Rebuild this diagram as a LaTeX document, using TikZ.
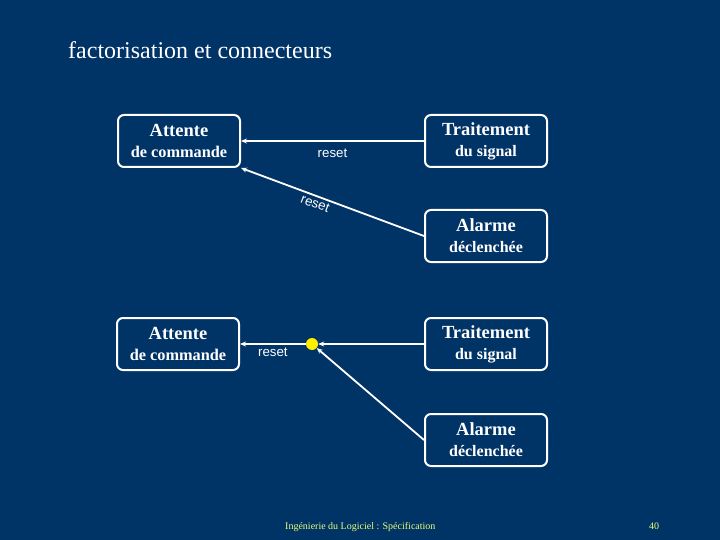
\documentclass[tikz,border=0pt]{standalone}
\usepackage{fontspec}
\setmainfont{Liberation Serif}
\newfontfamily\labelfont{Liberation Sans}
\usetikzlibrary{arrows.meta,positioning}
\definecolor{slidebg}{RGB}{0,51,102}
\definecolor{footyellow}{RGB}{230,255,120}
\definecolor{dotyellow}{RGB}{255,238,0}

\begin{document}
\begin{tikzpicture}[x=1pt,y=-1pt,
  etat/.style={draw=white,line width=2pt,rounded corners=6pt,minimum width=122pt,
    minimum height=52pt,align=center,text=white,inner sep=0pt,
    font=\bfseries\fontsize{18.5}{21}\selectfont},
  trans/.style={white,line width=1.8pt,-{Stealth[length=6pt,width=5pt]}},
  lbl/.style={text=white,font=\labelfont\fontsize{13.3}{15}\selectfont}]
\path[use as bounding box] (0,0) rectangle (720,540);
\fill[slidebg] (0,0) rectangle (720,540);
\node[text=white,font=\fontsize{24}{27}\selectfont,anchor=base west,inner sep=0pt] (titre) at (68,59) {factorisation et connecteurs};

% sans connecteur
\node[etat] (att1) at (179,141) {Attente\\{\fontsize{16.3}{19}\selectfont de commande}};
\node[etat] (trait1) at (486,141) {Traitement\\{\fontsize{16}{19}\selectfont du signal}};
\node[etat] (alarme1) at (486,236) {Alarme\\{\fontsize{16}{19}\selectfont déclenchée}};
\draw[trans] (trait1.west) -- (att1.east) node[midway,below=4pt,lbl] (r1) {reset};
\draw[trans] (alarme1.west) -- (att1.south east) node[pos=0.58,sloped,below=-1pt,lbl] (r2) {reset};

% avec connecteur
\node[etat] (att2) at (178,344) {Attente\\{\fontsize{16.3}{19}\selectfont de commande}};
\node[etat] (trait2) at (486,344) {Traitement\\{\fontsize{16}{19}\selectfont du signal}};
\node[etat] (alarme2) at (486,440) {Alarme\\{\fontsize{16}{19}\selectfont déclenchée}};
\node[circle,fill=dotyellow,minimum size=12pt,inner sep=0pt] (jonction) at (312,344) {};
\draw[trans] (trait2.west) -- (jonction);
\draw[trans] (alarme2.west) -- (jonction);
\draw[trans] (jonction) -- (att2.east) node[midway,below=0pt,lbl] (r3) {reset};

\node[text=footyellow,font=\fontsize{10}{11}\selectfont,anchor=base west,inner sep=0pt] (pied) at (285,529) {Ingénierie du Logiciel : Spécification};
\node[text=footyellow,font=\fontsize{10}{11}\selectfont,anchor=base,inner sep=0pt] (page) at (654,529) {40};
\end{tikzpicture}
\end{document}
